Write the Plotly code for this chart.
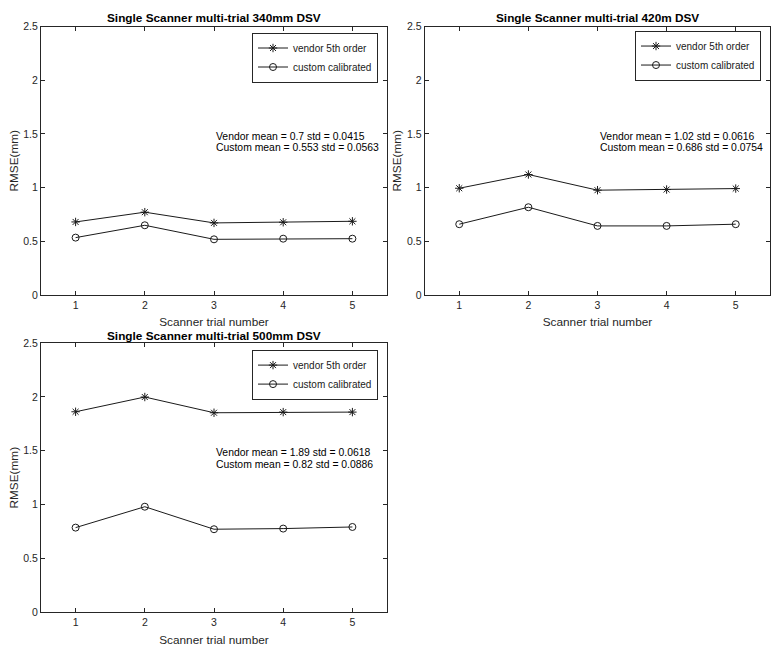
import plotly.graph_objects as go

W, H = 779, 657

trials = [1, 2, 3, 4, 5]

titles = ["Single Scanner multi-trial 340mm DSV",
          "Single Scanner multi-trial 420m DSV",
          "Single Scanner multi-trial 500mm DSV"]

vendor_340 = [0.680, 0.771, 0.671, 0.677, 0.686]
custom_340 = [0.534, 0.649, 0.518, 0.524, 0.524]
vendor_420 = [0.994, 1.122, 0.976, 0.982, 0.991]
custom_420 = [0.659, 0.817, 0.643, 0.643, 0.659]
vendor_500 = [1.862, 1.999, 1.853, 1.859, 1.859]
custom_500 = [0.787, 0.981, 0.772, 0.778, 0.793]

vendor_mean = ["0.7", "1.02", "1.89"]
vendor_std = ["0.0415", "0.0616", "0.0618"]
custom_mean = ["0.553", "0.686", "0.82"]
custom_std = ["0.0563", "0.0754", "0.0886"]

series_names = ["vendor 5th order", "custom calibrated"]

ytick_vals = [0, 0.5, 1, 1.5, 2, 2.5]
ytick_text = ["0", "0.5", "1", "1.5", "2", "2.5"]
xtick_vals = [1, 2, 3, 4, 5]
xtick_text = ["1", "2", "3", "4", "5"]

FONT = "Liberation Sans, Arial, Helvetica, sans-serif"
AX = "#262626"

# panel boxes in pixels: (left, right, top, bottom)
boxes = [(41, 387, 21, 294.3), (424.7, 770.3, 21, 294.3), (41, 387, 343.3, 617.7)]
legend_pos = [(378, 27), (761, 25), (378, 350)]
title_offset = [8.5, 8.5, 7.5]

vendors = [vendor_340, vendor_420, vendor_500]
customs = [custom_340, custom_420, custom_500]

fig = go.Figure()
layout = dict(width=W, height=H, margin=dict(l=0, r=0, t=0, b=0),
              paper_bgcolor="white", plot_bgcolor="white",
              font=dict(family=FONT, color=AX), annotations=[])

for i in range(3):
    sfx = "" if i == 0 else str(i + 1)
    lg = "legend" + sfx
    for name, ys, sym in [(series_names[0], vendors[i], "asterisk-open"),
                          (series_names[1], customs[i], "circle-open")]:
        fig.add_trace(go.Scatter(
            x=trials, y=ys, mode="lines+markers", name=name,
            xaxis="x" + sfx, yaxis="y" + sfx, legend=lg,
            line=dict(color="#1a1a1a", width=1),
            marker=dict(symbol=sym, size=7, color="#1a1a1a",
                        line=dict(width=1, color="#1a1a1a"))))
    l, r, t, b = boxes[i]
    common = dict(showline=True, linecolor=AX, linewidth=1, mirror="ticks",
                  ticks="inside", ticklen=4, tickcolor=AX, tickwidth=1,
                  showgrid=False, zeroline=False,
                  tickfont=dict(size=10.5, color=AX, family=FONT))
    layout["xaxis" + sfx] = dict(domain=[l / W, r / W], range=[0.5, 5.5],
                                 anchor="y" + sfx, tickvals=xtick_vals,
                                 ticktext=xtick_text,
                                 title=dict(text="Scanner trial number", standoff=8,
                                            font=dict(size=11.8, color=AX)),
                                 **common)
    layout["yaxis" + sfx] = dict(domain=[(H - b) / H, (H - t) / H], range=[0, 2.5],
                                 anchor="x" + sfx, tickvals=ytick_vals,
                                 ticktext=ytick_text,
                                 title=dict(text="RMSE(mm)", standoff=2,
                                            font=dict(size=11.8, color=AX)),
                                 **common)
    lx, ly = legend_pos[i]
    layout[lg] = dict(x=lx / W, y=(H - ly) / H, xanchor="right", yanchor="top",
                      bordercolor=AX, borderwidth=1, bgcolor="white",
                      font=dict(size=10, color="#1a1a1a", family=FONT),
                      tracegroupgap=0, itemwidth=30)
    layout["annotations"].append(dict(
        text="<b>" + titles[i] + "</b>", xref="paper", yref="paper",
        x=(l + r) / 2 / W, y=(H - (t - title_offset[i])) / H,
        xanchor="center", yanchor="middle",
        showarrow=False, font=dict(size=11.8, color="#000000", family=FONT)))
    layout["annotations"].append(dict(
        text="Vendor mean = %s std = %s" % (vendor_mean[i], vendor_std[i]),
        xref="x" + sfx, yref="y" + sfx, x=3, y=1.48, xanchor="left", yanchor="middle",
        showarrow=False, font=dict(size=10.4, color="#000000", family=FONT)))
    layout["annotations"].append(dict(
        text="Custom mean = %s std = %s" % (custom_mean[i], custom_std[i]),
        xref="x" + sfx, yref="y" + sfx, x=3, y=1.375, xanchor="left", yanchor="middle",
        showarrow=False, font=dict(size=10.4, color="#000000", family=FONT)))

fig.update_layout(**layout)
fig.write_html("out.html", config={"displayModeBar": False},
               post_script="document.body.style.margin='0px';document.body.style.overflow='hidden';")
